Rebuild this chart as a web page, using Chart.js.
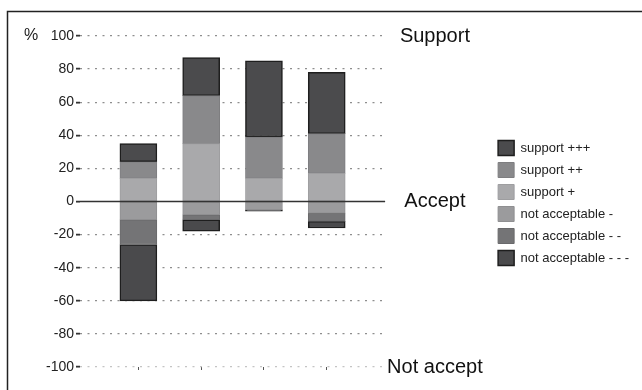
<!DOCTYPE html>
<html>
<head>
<meta charset="utf-8">
<script src="https://cdn.jsdelivr.net/npm/chart.js@4"></script>
<style>
  body { margin: 0; background: #fff; }
  #wrap { width: 642px; height: 390px; }
</style>
</head>
<body>
<div id="wrap"><canvas id="myChart" width="642" height="390"></canvas></div>
<script>
// positions of the four bars on the x axis
const groups = [1, 2, 3, 4];

// support (above zero)
const supportPlus = [14, 35, 14, 17];
const supportPlusPlus = [10, 29, 25, 24];
const supportPlusPlusPlus = [11, 23, 46, 37];

// not acceptable (below zero)
const notAcc1 = [-11, -8, -5, -7];
const notAcc2 = [-15, -3, 0, -5];
const notAcc3 = [-34, -7, -0.8, -4];

const yTicks = [100, 80, 60, 40, 20, 0, -20, -40, -60, -80, -100];
const sideTicks = [100, 0, -100];
const sideLabels = { '100': 'Support', '0': 'Accept', '-100': 'Not accept' };
const legendOrder = ['support +++', 'support ++', 'support +', 'not acceptable -', 'not acceptable - -', 'not acceptable - - -'];

function toPoints(arr) {
    return arr.map((v, i) => ({ x: groups[i], y: v }));
}

function makeSet(label, values, fill, border, bw) {
    return {
        label: label,
        data: toPoints(values),
        backgroundColor: fill,
        borderColor: border,
        borderWidth: bw,
        borderSkipped: false,
        barThickness: 37
    };
}

// frame, zero line and "%" label
const extras = {
    id: 'extras',
    beforeDraw(chart) {
        const c = chart.ctx;
        c.save();
        c.fillStyle = '#fff';
        c.fillRect(0, 0, chart.width, chart.height);
        c.strokeStyle = '#222';
        c.lineWidth = 1.5;
        c.beginPath();
        c.moveTo(7.5, chart.height + 2);
        c.lineTo(7.5, 11.5);
        c.lineTo(chart.width + 2, 11.5);
        c.stroke();
        c.restore();
    },
    afterDatasetsDraw(chart) {
        const c = chart.ctx;
        const y = chart.scales.y.getPixelForValue(0);
        c.save();
        c.strokeStyle = '#333';
        c.lineWidth = 1.3;
        c.beginPath();
        c.moveTo(chart.chartArea.left, y);
        c.lineTo(chart.chartArea.right, y);
        c.stroke();
        c.fillStyle = '#222';
        c.font = '16px "Liberation Sans", Arial, sans-serif';
        c.textAlign = 'center';
        c.textBaseline = 'middle';
        c.fillText('%', 31, chart.scales.y.getPixelForValue(100));
        c.restore();
    }
};

const ctx = document.getElementById('myChart').getContext('2d');
const myChart = new Chart(ctx, {
    type: 'bar',
    data: {
        datasets: [
            makeSet('support +', supportPlus, '#a9a9ab', '#9e9ea0', 1),
            makeSet('support ++', supportPlusPlus, '#89898b', '#7e7e80', 1),
            makeSet('support +++', supportPlusPlusPlus, '#4b4b4d', '#1e1e1e', 1.5),
            makeSet('not acceptable -', notAcc1, '#9b9b9d', '#8f8f91', 1),
            makeSet('not acceptable - -', notAcc2, '#747476', '#69696b', 1),
            makeSet('not acceptable - - -', notAcc3, '#4a4a4c', '#1e1e1e', 1.5)
        ]
    },
    options: {
        responsive: false,
        animation: false,
        layout: { padding: { left: 0, top: 36, right: 3, bottom: 20 } },
        plugins: {
            tooltip: { enabled: false },
            legend: {
                position: 'right',
                align: 'center',
                maxWidth: 151,
                labels: {
                    boxWidth: 16,
                    boxHeight: 15,
                    padding: 7,
                    color: '#222',
                    font: { size: 13, family: '"Liberation Sans", Arial, sans-serif' },
                    sort: (a, b) => legendOrder.indexOf(a.text) - legendOrder.indexOf(b.text)
                }
            }
        },
        scales: {
            x: {
                type: 'linear',
                stacked: true,
                offset: false,
                min: 0.07,
                max: 4.93,
                afterBuildTicks: (s) => { s.ticks = groups.map(v => ({ value: v })); },
                ticks: { display: false },
                grid: { offset: false, drawOnChartArea: false, drawTicks: true, tickLength: 3, tickColor: '#555', tickWidth: 1 },
                border: { display: false }
            },
            y: {
                stacked: true,
                min: -100,
                max: 100,
                afterBuildTicks: (s) => { s.ticks = yTicks.map(v => ({ value: v })); },
                afterFit: (s) => { s.width = 80; },
                ticks: {
                    padding: 2,
                    color: '#222',
                    font: { size: 14, family: '"Liberation Sans", Arial, sans-serif' }
                },
                grid: {
                    color: (c) => c.tick && c.tick.value === 0 ? 'rgba(0,0,0,0)' : (c.tick && c.tick.value === -100 ? '#c4c4c4' : '#8e8e8e'),
                    lineWidth: 1.3,
                    tickLength: 4,
                    tickColor: '#333',
                    tickWidth: 1.8
                },
                border: { display: false, dash: [2, 5.5] }
            },
            y2: {
                type: 'linear',
                display: true,
                position: 'right',
                min: -100,
                max: 100,
                afterBuildTicks: (s) => { s.ticks = sideTicks.map(v => ({ value: v })); },
                afterFit: (s) => { s.width = 106; },
                ticks: {
                    padding: 2,
                    crossAlign: 'center',
                    color: '#111',
                    font: { size: 20, family: '"Liberation Sans", Arial, sans-serif' },
                    callback: (v) => sideLabels[String(v)]
                },
                grid: { drawOnChartArea: false, drawTicks: false },
                border: { display: false }
            }
        }
    },
    plugins: [extras]
});
</script>
</body>
</html>
